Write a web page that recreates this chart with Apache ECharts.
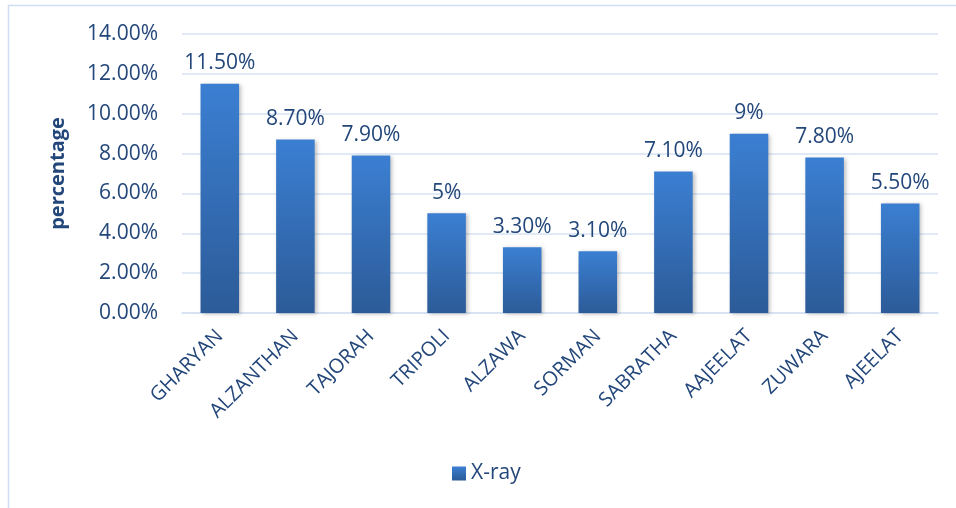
<!DOCTYPE html>
<html><head><meta charset="utf-8">
<script src="https://cdn.jsdelivr.net/npm/echarts@6/dist/echarts.min.js"></script>
<style>html,body{margin:0;padding:0;background:#fff}#c{width:956px;height:508px}</style>
</head><body><div id="c"></div>
<script>
const categories = ['GHARYAN','ALZANTHAN','TAJORAH','TRIPOLI','ALZAWA','SORMAN','SABRATHA','AAJEELAT','ZUWARA','AJEELAT'];
const values = [11.5, 8.7, 7.9, 5, 3.3, 3.1, 7.1, 9, 7.8, 5.5];
const valueLabels = ['11.50%','8.70%','7.90%','5%','3.30%','3.10%','7.10%','9%','7.80%','5.50%'];
const seriesName = 'X-ray';
const yAxisName = 'percentage';

const textColor = '#23477a';
const font = '"Open Sans", "Noto Sans", sans-serif';
const chart = echarts.init(document.getElementById('c'));
chart.setOption({
  animation: false,
  textStyle: {fontFamily: font},
  graphic: [{
    type: 'polyline', silent: true,
    shape: {points: [[8.5, 508], [8.5, 5.5], [956, 5.5]]},
    style: {stroke: '#cfdff1', lineWidth: 1.5, fill: null}
  }],
  grid: {left: 182, right: 18, top: 34, bottom: 195, containLabel: false},
  legend: {
    bottom: 19, left: 447, itemWidth: 14, itemHeight: 14, itemGap: 5,
    icon: 'rect',
    textStyle: {color: textColor, fontSize: 21, fontFamily: font},
    data: [seriesName]
  },
  xAxis: {
    type: 'category', data: categories,
    axisLine: {lineStyle: {color: '#d3e1f2', width: 1.5}},
    axisTick: {show: false},
    axisLabel: {rotate: 45, color: textColor, fontSize: 20, margin: 20, interval: 0, fontFamily: font}
  },
  yAxis: {
    type: 'value', min: 0, max: 14, interval: 2,
    name: yAxisName, nameLocation: 'middle', nameGap: 114, nameRotate: 90,
    nameTextStyle: {color: textColor, fontSize: 20, fontWeight: 'bold', fontFamily: font},
    axisLine: {show: false}, axisTick: {show: false},
    splitLine: {lineStyle: {color: '#d6e3f3', width: 1.5}},
    axisLabel: {color: textColor, fontSize: 21, margin: 24, fontFamily: font,
      formatter: v => v.toFixed(2) + '%'}
  },
  series: [{
    name: seriesName, type: 'bar', data: values, barWidth: '51%',
    itemStyle: {
      color: new echarts.graphic.LinearGradient(0, 0, 0, 1, [
        {offset: 0, color: '#3b7fd2'}, {offset: 1, color: '#2c5b98'}
      ]),
      shadowColor: 'rgba(0,0,0,0.25)', shadowBlur: 4, shadowOffsetX: 2, shadowOffsetY: 1
    },
    label: {
      show: true, position: 'top', distance: 10, color: textColor, fontSize: 21, fontFamily: font,
      formatter: p => valueLabels[p.dataIndex]
    }
  }]
});
</script></body></html>
